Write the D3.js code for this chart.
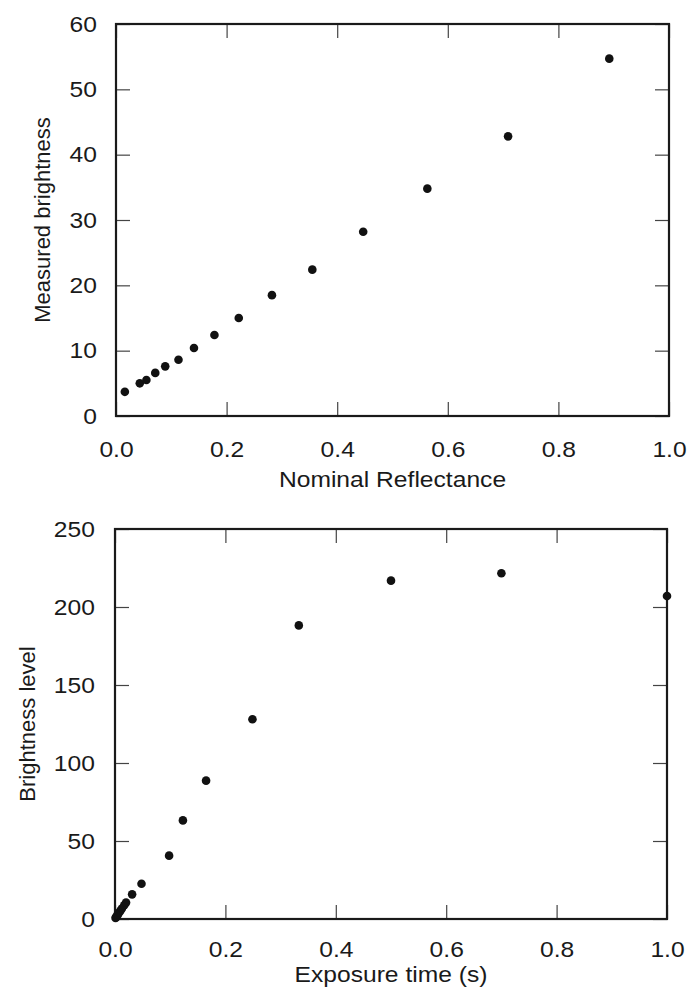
<!DOCTYPE html>
<html>
<head>
<meta charset="utf-8">
<script src="https://cdnjs.cloudflare.com/ajax/libs/d3/7.8.5/d3.min.js"></script>
<style>
  body { margin: 0; background: #fff; }
  svg { display: block; }
  .tick text { font-family: "Liberation Sans", Arial, sans-serif; font-size: 22px; fill: #1a1a1a; }
  .tick line { stroke: #444; stroke-width: 1.2; }
  .axis-title { font-family: "Liberation Sans", Arial, sans-serif; font-size: 22px; fill: #1a1a1a; }
</style>
</head>
<body>
<div id="chart"></div>
<script>
// Top panel: reflectance vs measured brightness
var reflectance = [0.016, 0.043, 0.055, 0.071, 0.089, 0.113, 0.141, 0.178, 0.222, 0.282, 0.355, 0.447, 0.563, 0.709, 0.892];
var brightness  = [3.7, 5.0, 5.5, 6.6, 7.6, 8.6, 10.4, 12.4, 15.0, 18.5, 22.4, 28.2, 34.8, 42.8, 54.7];

// Bottom panel: exposure time vs brightness level
var exposure = [0.001, 0.002, 0.004, 0.005, 0.008, 0.01, 0.0125, 0.0167, 0.02, 0.031, 0.048, 0.098, 0.123, 0.165, 0.249, 0.333, 0.5, 0.7, 1.0];
var level    = [0.7, 1.2, 2.2, 2.8, 4.3, 5.4, 6.7, 8.8, 10.5, 15.8, 22.6, 40.6, 63.2, 88.7, 128.0, 188.2, 216.9, 221.6, 207.0];

var xTicks = [0, 0.2, 0.4, 0.6, 0.8, 1.0];
var yTicksTop = [0, 10, 20, 30, 40, 50, 60];
var yTicksBottom = [0, 50, 100, 150, 200, 250];

// the original lettering is a little wide, stretch it sideways
var stretch = 'scale(1.12,1)';

var svg = d3.select('#chart').append('svg')
    .attr('width', 687)
    .attr('height', 989);

function drawPanel(opts) {
  var x = d3.scaleLinear().domain([0, 1]).range([opts.left, opts.right]);
  var y = d3.scaleLinear().domain(opts.yDomain).range([opts.bottom, opts.top]);
  var g = svg.append('g');
  var tick = 14;

  // inward ticks on all four sides
  g.append('g')
      .attr('transform', 'translate(0,' + opts.bottom + ')')
      .call(d3.axisBottom(x).tickValues(xTicks).tickSize(-tick).tickPadding(opts.xPad)
          .tickFormat(d3.format('.1f')))
      .call(a => a.select('.domain').remove())
      .call(a => a.selectAll('.tick text').attr('transform', stretch));
  g.append('g')
      .attr('transform', 'translate(0,' + opts.top + ')')
      .call(d3.axisTop(x).tickValues(xTicks).tickSize(-tick).tickFormat(''))
      .call(a => a.select('.domain').remove());
  g.append('g')
      .attr('transform', 'translate(' + opts.left + ',0)')
      .call(d3.axisLeft(y).tickValues(opts.yTicks).tickSize(-tick).tickPadding(opts.yPad)
          .tickFormat(d3.format('d')))
      .call(a => a.select('.domain').remove())
      .call(a => a.selectAll('.tick text').attr('transform', stretch));
  g.append('g')
      .attr('transform', 'translate(' + opts.right + ',0)')
      .call(d3.axisRight(y).tickValues(opts.yTicks).tickSize(-tick).tickFormat(''))
      .call(a => a.select('.domain').remove());

  // frame
  g.append('rect')
      .attr('x', opts.left)
      .attr('y', opts.top)
      .attr('width', opts.right - opts.left)
      .attr('height', opts.bottom - opts.top)
      .attr('fill', 'none')
      .attr('stroke', '#1a1a1a')
      .attr('stroke-width', 2.2);

  // points
  g.selectAll('circle')
      .data(opts.xs.map((d, i) => [d, opts.ys[i]]))
      .enter()
      .append('circle')
        .attr('cx', d => x(d[0]))
        .attr('cy', d => y(d[1]))
        .attr('r', 4.3)
        .attr('fill', '#111');

  // titles
  g.append('text')
      .attr('class', 'axis-title')
      .attr('transform', 'translate(' + (opts.left + opts.right) / 2 + ',' + opts.xTitleY + ') ' + stretch)
      .attr('text-anchor', 'middle')
      .text(opts.xTitle);
  g.append('text')
      .attr('class', 'axis-title')
      .attr('transform', 'translate(' + opts.yTitleX + ',' + (opts.top + opts.bottom) / 2 + ') rotate(-90)')
      .attr('text-anchor', 'middle')
      .text(opts.yTitle);
}

drawPanel({
  left: 116, right: 669, top: 24, bottom: 416,
  yDomain: [0, 60], yTicks: yTicksTop,
  xs: reflectance, ys: brightness,
  xPad: 25, yPad: 17, xTitleY: 487, yTitleX: 50,
  xTitle: 'Nominal Reflectance', yTitle: 'Measured brightness'
});

drawPanel({
  left: 115, right: 667, top: 529, bottom: 919,
  yDomain: [0, 250], yTicks: yTicksBottom,
  xs: exposure, ys: level,
  xPad: 22, yPad: 18, xTitleY: 982, yTitleX: 35,
  xTitle: 'Exposure time (s)', yTitle: 'Brightness level'
});
</script>
</body>
</html>
